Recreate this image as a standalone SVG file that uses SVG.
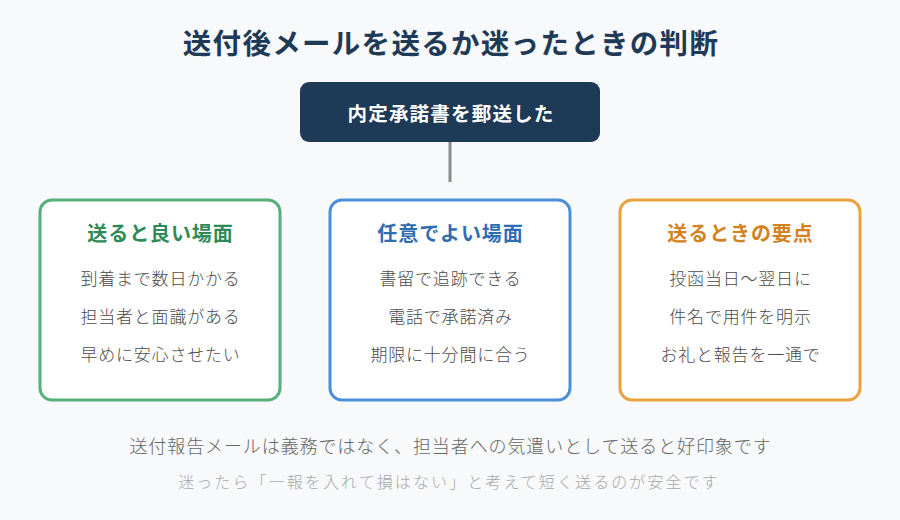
<svg xmlns="http://www.w3.org/2000/svg" width="900" height="520" viewBox="0 0 900 520">
<style>
text{font-family:"Noto Sans CJK JP","Noto Sans",sans-serif;text-anchor:middle;dominant-baseline:central}
.title{font-size:28.5px;font-weight:bold;fill:#1f3a56;letter-spacing:1.3px}
.top{font-size:19.5px;font-weight:bold;fill:#ffffff;letter-spacing:1.2px}
.box{fill:#ffffff;stroke-width:3}
.bt{font-size:20px;font-weight:bold;letter-spacing:0.9px}
.item{font-size:17px;font-weight:300;fill:#4a4a4a;letter-spacing:0.8px}
.f1{font-size:18px;font-weight:300;fill:#666666;letter-spacing:0.9px}
.f2{font-size:16px;font-weight:300;fill:#a8a8a8;letter-spacing:2.1px}
</style>
<rect width="900" height="520" fill="#f7f9fb"/>
<text class="title" x="451" y="41">送付後メールを送るか迷ったときの判断</text>
<g id="connectors">
<line x1="450" y1="142" x2="450" y2="182" stroke="#8a8a8a" stroke-width="3"/>
</g>
<g id="start">
<rect x="300" y="82" width="300" height="60" rx="9" fill="#1f3a56"/>
<text class="top" x="451" y="112">内定承諾書を郵送した</text>
</g>
<g id="good">
<rect class="box" x="40" y="200" width="240" height="200" rx="12" stroke="#55b07c"/>
<text class="bt" x="160.5" y="232" fill="#2e8a57">送ると良い場面</text>
<text class="item" x="160.5" y="277">到着まで数日かかる</text>
<text class="item" x="160.5" y="315">担当者と面識がある</text>
<text class="item" x="160.5" y="353">早めに安心させたい</text>
</g>
<g id="optional">
<rect class="box" x="330" y="200" width="240" height="200" rx="12" stroke="#4a8fd8"/>
<text class="bt" x="450.5" y="232" fill="#2f6db3">任意でよい場面</text>
<text class="item" x="450.5" y="277">書留で追跡できる</text>
<text class="item" x="450.5" y="315">電話で承諾済み</text>
<text class="item" x="450.5" y="353">期限に十分間に合う</text>
</g>
<g id="points">
<rect class="box" x="620" y="200" width="240" height="200" rx="12" stroke="#e8a33d"/>
<text class="bt" x="740.5" y="232" fill="#d3821e">送るときの要点</text>
<text class="item" x="740.5" y="277">投函当日〜翌日に</text>
<text class="item" x="740.5" y="315">件名で用件を明示</text>
<text class="item" x="740.5" y="353">お礼と報告を一通で</text>
</g>
<text class="f1" x="450.5" y="445">送付報告メールは義務ではなく、担当者への気遣いとして送ると好印象です</text>
<text class="f2" x="449" y="481">迷ったら「一報を入れて損はない」と考えて短く送るのが安全です</text>
</svg>
